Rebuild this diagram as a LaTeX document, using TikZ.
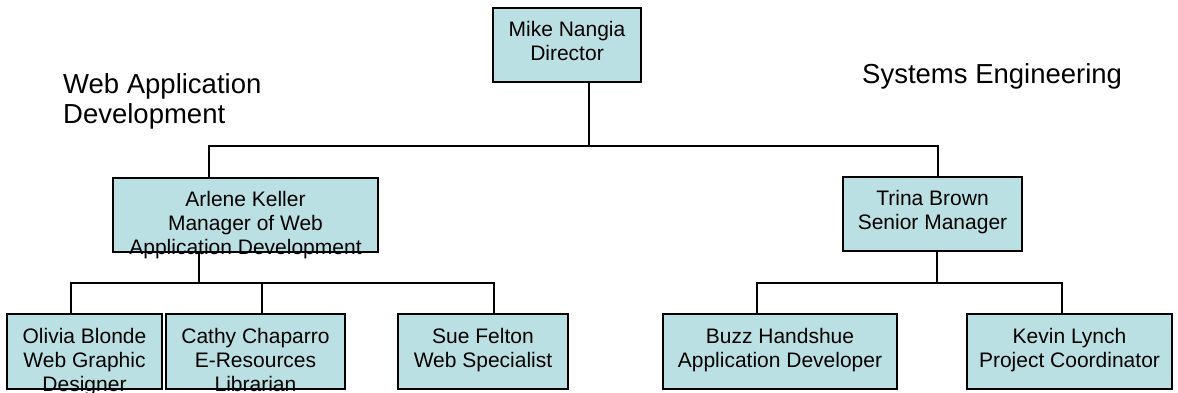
\documentclass[tikz,border=0pt]{standalone}
\usepackage{fontspec}
\setmainfont{Liberation Sans}
\usetikzlibrary{positioning}
\usetikzlibrary{calc}
\definecolor{bTeal}{HTML}{BBE0E3}

\begin{document}
\begin{tikzpicture}[x=1pt, y=-1pt,
  person/.style={draw=black, line width=1.6pt, fill=bTeal, inner sep=0pt},
  who/.style={anchor=north, align=center, inner sep=0pt, font=\fontsize{21}{24}\selectfont},
  branch/.style={anchor=north west, align=left, inner sep=0pt, font=\fontsize{27.5}{30}\selectfont},
  wire/.style={draw=black, line width=1.3pt}]
  \useasboundingbox (0,0) rectangle (1178,393);

  \node[branch] (webdev) at (63,73) {Web Application\\Development};
  \node[branch] (syseng) at (862,63) {Systems Engineering};

  % boxes
  \node[person, minimum width=148pt, minimum height=74pt] (mike) at (567,45) {};
  \node[person, minimum width=265pt, minimum height=74pt] (arlene) at (245.5,215) {};
  \node[person, minimum width=179pt, minimum height=74pt] (trina) at (932.5,214) {};
  \node[person, minimum width=155pt, minimum height=75pt] (olivia) at (84.5,351.5) {};
  \node[person, minimum width=179pt, minimum height=75pt] (cathy) at (255.5,351.5) {};
  \node[person, minimum width=170pt, minimum height=75pt] (sue) at (483,351.5) {};
  \node[person, minimum width=234pt, minimum height=75pt] (buzz) at (780,351.5) {};
  \node[person, minimum width=205pt, minimum height=75pt] (kevin) at (1069.5,351.5) {};

  % lines
  \draw[wire] (589,0 |- mike.south) -- (589,146);
  \draw[wire] (209,0 |- arlene.north) |- (938,146) -- (938,0 |- trina.north);
  \draw[wire] (199,0 |- arlene.south) -- (199,283);
  \draw[wire] (71,0 |- olivia.north) |- (494,283) -- (494,0 |- sue.north);
  \draw[wire] (262,283) -- (262,0 |- cathy.north);
  \draw[wire] (937,0 |- trina.south) -- (937,283);
  \draw[wire] (757,0 |- buzz.north) |- (1062,283) -- (1062,0 |- kevin.north);

  % names
  \node[who] (mike-t) at ($(mike.north)+(0,14)$) {Mike Nangia\\Director};
  \node[who] (arlene-t) at ($(arlene.north)+(0,14)$) {Arlene Keller\\Manager of Web\\Application Development};
  \node[who] (trina-t) at ($(trina.north)+(0,14)$) {Trina Brown\\Senior Manager};
  \node[who] (olivia-t) at ($(olivia.north)+(0,15)$) {Olivia Blonde\\Web Graphic\\Designer};
  \node[who] (cathy-t) at ($(cathy.north)+(0,15)$) {Cathy Chaparro\\E-Resources\\Librarian};
  \node[who] (sue-t) at ($(sue.north)+(0,15)$) {Sue Felton\\Web Specialist};
  \node[who] (buzz-t) at ($(buzz.north)+(0,15)$) {Buzz Handshue\\Application Developer};
  \node[who] (kevin-t) at ($(kevin.north)+(0,15)$) {Kevin Lynch\\Project Coordinator};

\end{tikzpicture}
\end{document}
